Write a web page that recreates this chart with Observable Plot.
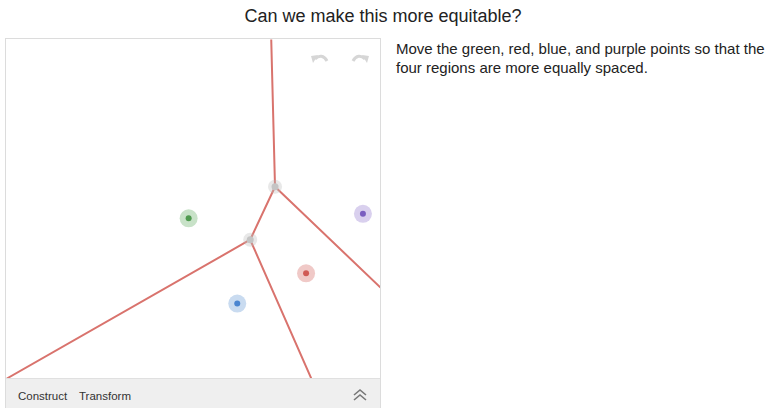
<!DOCTYPE html>
<html>
<head>
<meta charset="utf-8">
<script src="https://cdn.jsdelivr.net/npm/d3@7"></script>
<script src="https://cdn.jsdelivr.net/npm/@observablehq/plot@0.6"></script>
<style>
  body { margin: 0; background: #fff; font-family: "Liberation Sans", Arial, sans-serif; }
  #title { position: absolute; left: 0; top: 6px; width: 766px; text-align: center; font-size: 18px; color: #222; }
  #panel { position: absolute; left: 5px; top: 38px; width: 374px; height: 369px; border: 1px solid #dcdcdc; border-bottom: none; overflow: hidden; background: #fff; }
  #chart { position: absolute; left: 0; top: 0; }
  #toolbar { position: absolute; left: 0; top: 339px; width: 374px; height: 31px; background: #efefef; border-top: 1px solid #e0e0e0; font-size: 11.5px; color: #333; }
  #toolbar span { position: absolute; top: 11px; }
  #desc { position: absolute; left: 396px; top: 39px; font-size: 15px; line-height: 19px; color: #222; white-space: nowrap; }
  .icon { position: absolute; }
</style>
</head>
<body>
<div id="title">Can we make this more equitable?</div>
<div id="panel">
  <div id="chart"></div>
  <svg class="icon" style="left:302px;top:12px" width="24" height="16" viewBox="0 0 24 16">
    <path d="M7 8 C11 4,16 4,19 10" fill="none" stroke="#d6d6d6" stroke-width="3"/>
    <path d="M3 5 L10 4 L5 12 Z" fill="#d6d6d6"/>
  </svg>
  <svg class="icon" style="left:342px;top:12px" width="24" height="16" viewBox="0 0 24 16">
    <path d="M17 8 C13 4,8 4,5 10" fill="none" stroke="#d6d6d6" stroke-width="3"/>
    <path d="M21 5 L14 4 L19 12 Z" fill="#d6d6d6"/>
  </svg>
  <div id="toolbar">
    <span style="left:12px">Construct</span>
    <span style="left:73px">Transform</span>
    <svg class="icon" style="left:346px;top:9px" width="16" height="14" viewBox="0 0 16 14">
      <path d="M2 7 L8 2 L14 7 M2 12 L8 7 L14 12" fill="none" stroke="#777" stroke-width="1.6"/>
    </svg>
  </div>
</div>
<div id="desc">Move the green, red, blue, and purple points so that the<br>four regions are more equally spaced.</div>
<script>
const names = ["green", "purple", "red", "blue"];
const xs = [-0.13, 4.53, 3.01, 1.17];
const ys = [-0.25, -0.13, -1.72, -2.53];
const haloColors = ["#c8e2c8", "#d9d0ee", "#f0c9c7", "#c9dbf0"];
const dotColors = ["#4f9a4f", "#7a5fc0", "#d05a55", "#4a85d0"];
const xDomain = [-5, 5];
const yDomain = [-4.532, 4.532];

const pts = names.map((n, i) => ({name: n, x: xs[i], y: ys[i], halo: haloColors[i], dot: dotColors[i]}));

// Voronoi vertices (computed from the points)
const del = d3.Delaunay.from(pts, d => d.x, d => d.y);
const vor = del.voronoi([xDomain[0], yDomain[0], xDomain[1], yDomain[1]]);
const verts = [];
for (let i = 0; i < vor.circumcenters.length; i += 2) {
  verts.push({x: vor.circumcenters[i], y: vor.circumcenters[i + 1]});
}

const chart = Plot.plot({
  width: 374,
  height: 339,
  margin: 0,
  x: {domain: xDomain, axis: null},
  y: {domain: yDomain, axis: null},
  marks: [
    Plot.voronoiMesh(pts, {x: "x", y: "y", stroke: "#d9736d", strokeWidth: 2, strokeOpacity: 1}),
    Plot.dot(verts, {x: "x", y: "y", r: 7, fill: "#bdbdbd", fillOpacity: 0.35}),
    Plot.dot(verts, {x: "x", y: "y", r: 3.5, fill: "#c4c4c4"}),
    Plot.dot(pts, {x: "x", y: "y", r: 9, fill: "halo"}),
    Plot.dot(pts, {x: "x", y: "y", r: 3, fill: "dot"})
  ]
});
document.getElementById("chart").appendChild(chart);
</script>
</body>
</html>
